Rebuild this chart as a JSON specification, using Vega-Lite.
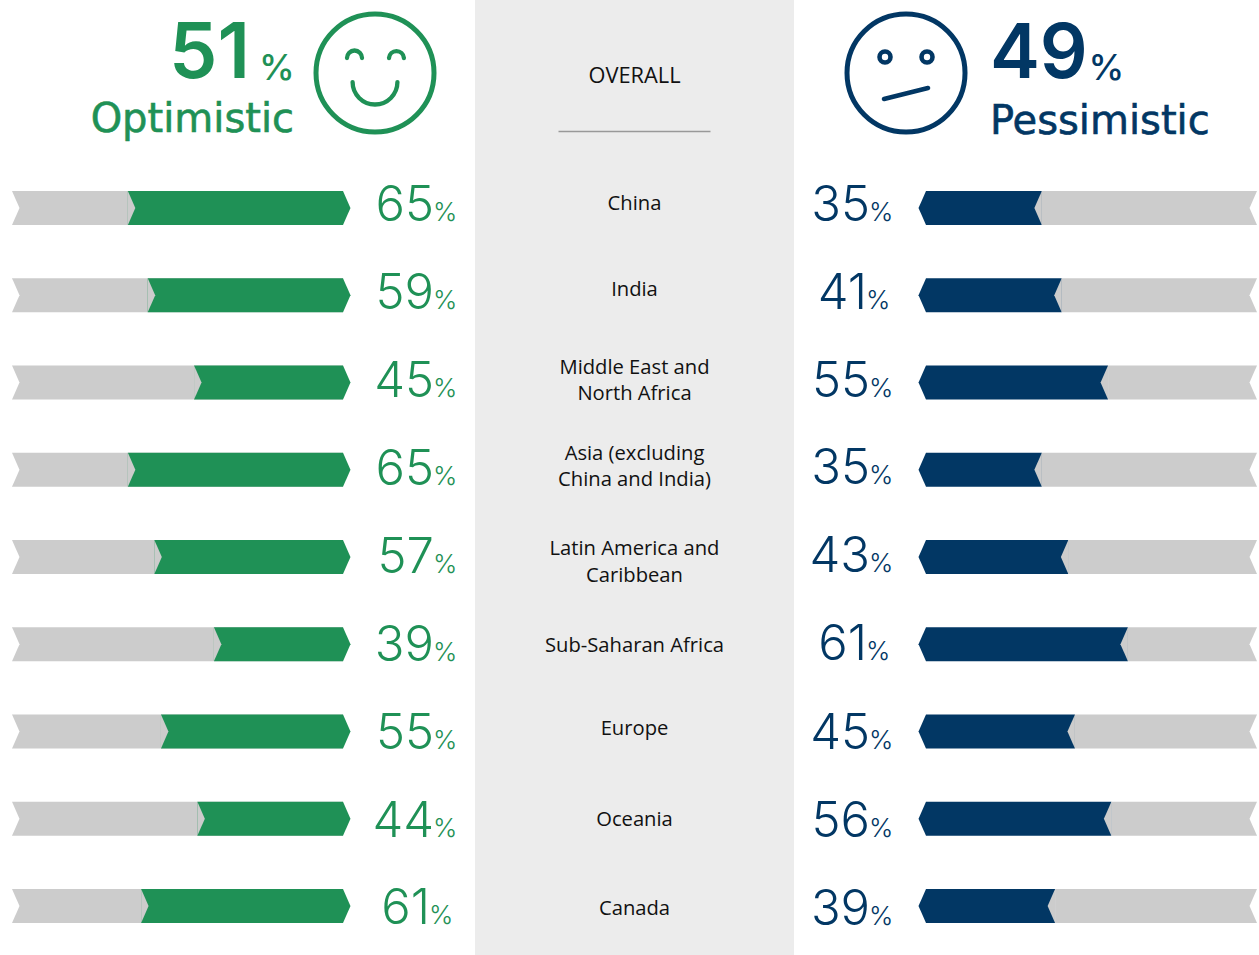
{"$schema":"https://vega.github.io/schema/vega-lite/v6.json","padding":0,"spacing":0,"background":"white","config":{"view":{"stroke":null},"concat":{"spacing":0},"text":{"font":"Inter"}},
"datasets":{"regions":[
{"region":"China","label":"China","row":1,"optimistic":65,"pessimistic":35,"zero":0,"full":100},
{"region":"India","label":"India","row":2,"optimistic":59,"pessimistic":41,"zero":0,"full":100},
{"region":"MENA","label":"Middle East and\nNorth Africa","row":3,"optimistic":45,"pessimistic":55,"zero":0,"full":100},
{"region":"Asia","label":"Asia (excluding\nChina and India)","row":4,"optimistic":65,"pessimistic":35,"zero":0,"full":100},
{"region":"LAC","label":"Latin America and\nCaribbean","row":5,"optimistic":57,"pessimistic":43,"zero":0,"full":100},
{"region":"SSA","label":"Sub-Saharan Africa","row":6,"optimistic":39,"pessimistic":61,"zero":0,"full":100},
{"region":"Europe","label":"Europe","row":7,"optimistic":55,"pessimistic":45,"zero":0,"full":100},
{"region":"Oceania","label":"Oceania","row":8,"optimistic":44,"pessimistic":56,"zero":0,"full":100},
{"region":"Canada","label":"Canada","row":9,"optimistic":61,"pessimistic":39,"zero":0,"full":100}],
"overall":[{"optimistic":51,"pessimistic":49,"name":"OVERALL"}]},
"hconcat":[
{"width":475,"height":955,"data":{"name":"regions"},"layer":[
{"mark":{"type":"bar","orient":"horizontal","size":34,"color":"#cccccc"},"encoding":{"x":{"field":"full","type":"quantitative","scale":{"domain":[103.63,-39.88],"nice":false,"zero":false},"axis":null},"x2":{"field":"zero"},"y":{"field":"row","type":"quantitative","scale":{"domain":[9.561,-1.384],"nice":false,"zero":false,"padding":0},"axis":null}}},
{"mark":{"type":"point","filled":true,"opacity":1,"color":"white","size":1156,"shape":"M0 -1 L.44 0 L0 1 Z"},"encoding":{"x":{"field":"full","type":"quantitative","scale":{"domain":[103.63,-39.88],"nice":false,"zero":false},"axis":null},"y":{"field":"row","type":"quantitative","scale":{"domain":[9.561,-1.384],"nice":false,"zero":false,"padding":0},"axis":null}}},
{"mark":{"type":"bar","orient":"horizontal","size":34,"color":"#1f9156"},"encoding":{"x":{"field":"optimistic","type":"quantitative","scale":{"domain":[103.63,-39.88],"nice":false,"zero":false},"axis":null},"x2":{"field":"zero"},"y":{"field":"row","type":"quantitative","scale":{"domain":[9.561,-1.384],"nice":false,"zero":false,"padding":0},"axis":null}}},
{"mark":{"type":"point","filled":true,"opacity":1,"color":"#cccccc","size":1156,"shape":"M0 -1 L.44 0 L0 1 Z"},"encoding":{"x":{"field":"optimistic","type":"quantitative","scale":{"domain":[103.63,-39.88],"nice":false,"zero":false},"axis":null},"y":{"field":"row","type":"quantitative","scale":{"domain":[9.561,-1.384],"nice":false,"zero":false,"padding":0},"axis":null}}},
{"mark":{"type":"point","filled":true,"opacity":1,"color":"#1f9156","size":1156,"shape":"M0 -1 L.44 0 L0 1 Z"},"encoding":{"x":{"field":"zero","type":"quantitative","scale":{"domain":[103.63,-39.88],"nice":false,"zero":false},"axis":null},"y":{"field":"row","type":"quantitative","scale":{"domain":[9.561,-1.384],"nice":false,"zero":false,"padding":0},"axis":null}}},
{"mark":{"type":"text","font":"Inter","fontWeight":300,"fontSize":49,"align":"right","baseline":"alphabetic","dy":{"expr":"14+[-1,0,0,1,2,3,3,4,4][datum.row-1]"},"color":"#1f9156","dx":{"expr":"datum.optimistic==61?-4:0"}},"encoding":{"x":{"datum":-27.5,"type":"quantitative","scale":{"domain":[103.63,-39.88],"nice":false,"zero":false},"axis":null},"y":{"field":"row","type":"quantitative","scale":{"domain":[9.561,-1.384],"nice":false,"zero":false,"padding":0},"axis":null},"text":{"field":"optimistic"}}},
{"mark":{"type":"text","font":"Inter","fontWeight":300,"fontSize":26,"align":"left","baseline":"alphabetic","dy":{"expr":"14+[-1,0,0,1,2,3,3,4,4][datum.row-1]"},"color":"#1f9156","dx":{"expr":"datum.optimistic==61?-4:0"}},"encoding":{"x":{"datum":-27.2,"type":"quantitative","scale":{"domain":[103.63,-39.88],"nice":false,"zero":false},"axis":null},"y":{"field":"row","type":"quantitative","scale":{"domain":[9.561,-1.384],"nice":false,"zero":false,"padding":0},"axis":null},"text":{"value":"%"}}},
{"data":{"name":"overall"},"mark":{"type":"text","font":"Inter","fontWeight":600,"fontSize":77,"align":"right","baseline":"alphabetic","color":"#1f9156"},"encoding":{"x":{"datum":28.1,"type":"quantitative","scale":{"domain":[103.63,-39.88],"nice":false,"zero":false},"axis":null},"y":{"datum":-0.49,"type":"quantitative","scale":{"domain":[9.561,-1.384],"nice":false,"zero":false,"padding":0},"axis":null},"text":{"field":"optimistic"}}},
{"data":{"name":"overall"},"mark":{"type":"text","font":"Inter","fontWeight":500,"fontSize":36,"align":"left","baseline":"alphabetic","color":"#1f9156"},"encoding":{"x":{"datum":25.4,"type":"quantitative","scale":{"domain":[103.63,-39.88],"nice":false,"zero":false},"axis":null},"y":{"datum":-0.467,"type":"quantitative","scale":{"domain":[9.561,-1.384],"nice":false,"zero":false,"padding":0},"axis":null},"text":{"value":"%"}}},
{"data":{"name":"overall"},"mark":{"type":"text","font":"DejaVu Sans","fontSize":40,"stroke":"#1f9156","strokeWidth":0.6,"align":"right","baseline":"alphabetic","color":"#1f9156"},"encoding":{"x":{"datum":14.8,"type":"quantitative","scale":{"domain":[103.63,-39.88],"nice":false,"zero":false},"axis":null},"y":{"datum":0.13,"type":"quantitative","scale":{"domain":[9.561,-1.384],"nice":false,"zero":false,"padding":0},"axis":null},"text":{"value":"Optimistic"}}},
{"data":{"name":"overall"},"mark":{"type":"point","shape":"circle","filled":false,"opacity":1,"color":"#1f9156","strokeWidth":5,"size":13924},"encoding":{"x":{"datum":-9.67,"type":"quantitative","scale":{"domain":[103.63,-39.88],"nice":false,"zero":false},"axis":null},"y":{"datum":-0.547,"type":"quantitative","scale":{"domain":[9.561,-1.384],"nice":false,"zero":false,"padding":0},"axis":null}}},
{"data":{"name":"overall"},"mark":{"type":"point","shape":"M-.475 -.254 A.127 .127 0 0 1 -.22 -.254 M.237 -.254 A.127 .127 0 0 1 .49 -.254 M-.38 .153 A.38 .38 0 0 0 .38 .153","filled":false,"opacity":1,"color":"#1f9156","strokeWidth":4.3,"strokeCap":"round","size":13924},"encoding":{"x":{"datum":-9.67,"type":"quantitative","scale":{"domain":[103.63,-39.88],"nice":false,"zero":false},"axis":null},"y":{"datum":-0.547,"type":"quantitative","scale":{"domain":[9.561,-1.384],"nice":false,"zero":false,"padding":0},"axis":null}}}
]},
{"width":319,"height":955,"view":{"fill":"#ececec"},"data":{"name":"regions"},"layer":[
{"mark":{"type":"text","font":"Open Sans","fontSize":20.2,"lineHeight":26.5,"lineBreak":"\n","align":"center","baseline":"middle","color":"#111111","dy":{"expr":"{'China':-4,'India':-5,'MENA':-15,'Asia':-16,'LAC':-8,'SSA':2,'Europe':-3,'Oceania':1,'Canada':3}[datum.region]"}},"encoding":{"x":{"datum":0,"type":"quantitative","scale":{"domain":[-1,1],"nice":false,"zero":false},"axis":null},"y":{"field":"row","type":"quantitative","scale":{"domain":[9.561,-1.384],"nice":false,"zero":false,"padding":0},"axis":null},"text":{"field":"label"}}},
{"data":{"name":"overall"},"mark":{"type":"text","font":"Open Sans","fontSize":21.8,"align":"center","baseline":"middle","color":"#111111"},"encoding":{"x":{"datum":0,"type":"quantitative","scale":{"domain":[-1,1],"nice":false,"zero":false},"axis":null},"y":{"datum":-0.513,"type":"quantitative","scale":{"domain":[9.561,-1.384],"nice":false,"zero":false,"padding":0},"axis":null},"text":{"field":"name"}}},
{"data":{"name":"overall"},"mark":{"type":"point","shape":"M-1 0 L1 0","filled":false,"opacity":1,"color":"#999999","strokeWidth":1.5,"size":23104},"encoding":{"x":{"datum":0,"type":"quantitative","scale":{"domain":[-1,1],"nice":false,"zero":false},"axis":null},"y":{"datum":0.123,"type":"quantitative","scale":{"domain":[9.561,-1.384],"nice":false,"zero":false,"padding":0},"axis":null}}}
]},
{"width":465,"height":955,"data":{"name":"regions"},"layer":[
{"mark":{"type":"bar","orient":"horizontal","size":34,"color":"#023764"},"encoding":{"x":{"field":"zero","type":"quantitative","scale":{"domain":[-39.88,100.6],"nice":false,"zero":false},"axis":null},"x2":{"field":"pessimistic"},"y":{"field":"row","type":"quantitative","scale":{"domain":[9.561,-1.384],"nice":false,"zero":false,"padding":0},"axis":null}}},
{"mark":{"type":"point","filled":true,"opacity":1,"color":"#023764","size":1156,"shape":"M0 -1 L-.44 0 L0 1 Z"},"encoding":{"x":{"field":"zero","type":"quantitative","scale":{"domain":[-39.88,100.6],"nice":false,"zero":false},"axis":null},"y":{"field":"row","type":"quantitative","scale":{"domain":[9.561,-1.384],"nice":false,"zero":false,"padding":0},"axis":null}}},
{"mark":{"type":"bar","orient":"horizontal","size":34,"color":"#cccccc"},"encoding":{"x":{"field":"pessimistic","type":"quantitative","scale":{"domain":[-39.88,100.6],"nice":false,"zero":false},"axis":null},"x2":{"field":"full"},"y":{"field":"row","type":"quantitative","scale":{"domain":[9.561,-1.384],"nice":false,"zero":false,"padding":0},"axis":null}}},
{"mark":{"type":"point","filled":true,"opacity":1,"color":"#cccccc","size":1156,"shape":"M0 -1 L-.44 0 L0 1 Z"},"encoding":{"x":{"field":"pessimistic","type":"quantitative","scale":{"domain":[-39.88,100.6],"nice":false,"zero":false},"axis":null},"y":{"field":"row","type":"quantitative","scale":{"domain":[9.561,-1.384],"nice":false,"zero":false,"padding":0},"axis":null}}},
{"mark":{"type":"point","filled":true,"opacity":1,"color":"white","size":1156,"shape":"M0 -1 L-.44 0 L0 1 Z"},"encoding":{"x":{"field":"full","type":"quantitative","scale":{"domain":[-39.88,100.6],"nice":false,"zero":false},"axis":null},"y":{"field":"row","type":"quantitative","scale":{"domain":[9.561,-1.384],"nice":false,"zero":false,"padding":0},"axis":null}}},
{"mark":{"type":"text","font":"Inter","fontWeight":300,"fontSize":49,"align":"right","baseline":"alphabetic","dy":{"expr":"13+[0,1,1,1,2,3,4,5,6][datum.row-1]"},"color":"#023764","dx":{"expr":"(datum.pessimistic==41||datum.pessimistic==61)?-3:0"}},"encoding":{"x":{"datum":-16.9,"type":"quantitative","scale":{"domain":[-39.88,100.6],"nice":false,"zero":false},"axis":null},"y":{"field":"row","type":"quantitative","scale":{"domain":[9.561,-1.384],"nice":false,"zero":false,"padding":0},"axis":null},"text":{"field":"pessimistic"}}},
{"mark":{"type":"text","font":"Inter","fontWeight":300,"fontSize":26,"align":"left","baseline":"alphabetic","dy":{"expr":"13+[0,1,1,1,2,3,4,5,6][datum.row-1]"},"color":"#023764","dx":{"expr":"(datum.pessimistic==41||datum.pessimistic==61)?-3:0"}},"encoding":{"x":{"datum":-17.2,"type":"quantitative","scale":{"domain":[-39.88,100.6],"nice":false,"zero":false},"axis":null},"y":{"field":"row","type":"quantitative","scale":{"domain":[9.561,-1.384],"nice":false,"zero":false,"padding":0},"axis":null},"text":{"value":"%"}}},
{"data":{"name":"overall"},"mark":{"type":"text","font":"Inter","fontWeight":600,"fontSize":75,"align":"left","baseline":"alphabetic","color":"#023764"},"encoding":{"x":{"datum":19.3,"type":"quantitative","scale":{"domain":[-39.88,100.6],"nice":false,"zero":false},"axis":null},"y":{"datum":-0.49,"type":"quantitative","scale":{"domain":[9.561,-1.384],"nice":false,"zero":false,"padding":0},"axis":null},"text":{"field":"pessimistic"}}},
{"data":{"name":"overall"},"mark":{"type":"text","font":"Inter","fontWeight":500,"fontSize":36,"align":"left","baseline":"alphabetic","color":"#023764"},"encoding":{"x":{"datum":49.1,"type":"quantitative","scale":{"domain":[-39.88,100.6],"nice":false,"zero":false},"axis":null},"y":{"datum":-0.467,"type":"quantitative","scale":{"domain":[9.561,-1.384],"nice":false,"zero":false,"padding":0},"axis":null},"text":{"value":"%"}}},
{"data":{"name":"overall"},"mark":{"type":"text","font":"DejaVu Sans","fontSize":40,"stroke":"#023764","strokeWidth":0.6,"align":"left","baseline":"alphabetic","color":"#023764"},"encoding":{"x":{"datum":19.3,"type":"quantitative","scale":{"domain":[-39.88,100.6],"nice":false,"zero":false},"axis":null},"y":{"datum":0.152,"type":"quantitative","scale":{"domain":[9.561,-1.384],"nice":false,"zero":false,"padding":0},"axis":null},"text":{"value":"Pessimistic"}}},
{"data":{"name":"overall"},"mark":{"type":"point","shape":"circle","filled":false,"opacity":1,"color":"#023764","strokeWidth":5,"size":13924},"encoding":{"x":{"datum":-6.04,"type":"quantitative","scale":{"domain":[-39.88,100.6],"nice":false,"zero":false},"axis":null},"y":{"datum":-0.547,"type":"quantitative","scale":{"domain":[9.561,-1.384],"nice":false,"zero":false,"padding":0},"axis":null}}},
{"data":{"name":"overall"},"mark":{"type":"point","shape":"M-.449 -.271 A.093 .093 0 1 1 -.263 -.271 A.093 .093 0 1 1 -.449 -.271 Z M.263 -.271 A.093 .093 0 1 1 .449 -.271 A.093 .093 0 1 1 .263 -.271 Z M-.373 .44 L.373 .254","filled":false,"opacity":1,"color":"#023764","strokeWidth":4.6,"strokeCap":"round","size":13924},"encoding":{"x":{"datum":-6.04,"type":"quantitative","scale":{"domain":[-39.88,100.6],"nice":false,"zero":false},"axis":null},"y":{"datum":-0.547,"type":"quantitative","scale":{"domain":[9.561,-1.384],"nice":false,"zero":false,"padding":0},"axis":null}}}
]}
]}
